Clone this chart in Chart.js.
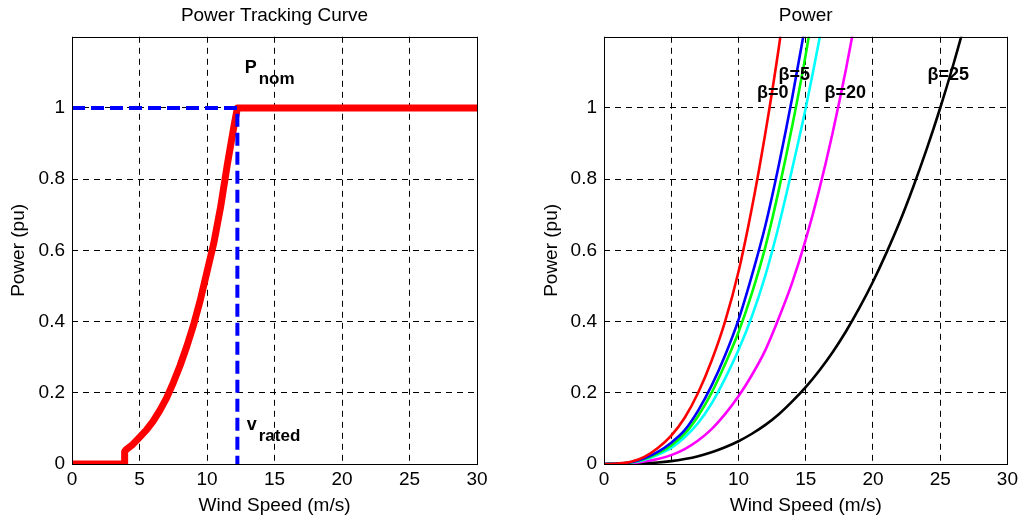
<!DOCTYPE html>
<html>
<head>
<meta charset="utf-8">
<script src="https://cdn.jsdelivr.net/npm/chart.js@4.4.0/dist/chart.umd.min.js"></script>
<style>
  body { margin: 0; background: #fff; }
  .row { display: flex; width: 1022px; height: 520px; }
  canvas { display: block; }
</style>
</head>
<body>
<div class="row">
  <canvas id="tracking" width="511" height="520"></canvas>
  <canvas id="power" width="511" height="520"></canvas>
</div>
<script>
// left plot: power tracking curve
const trackSpeed = [0, 3.9, 3.9, 4, 4.5, 5, 5.5, 6, 6.5, 7, 7.5, 8, 8.5, 9, 9.5, 10, 10.5, 11, 11.5, 12, 12.25, 30];
const trackPower = [0, 0, 0.035, 0.04, 0.055, 0.075, 0.095, 0.12, 0.15, 0.185, 0.228, 0.276, 0.33, 0.39, 0.46, 0.54, 0.62, 0.72, 0.84, 0.95, 1, 1];
const nomSpeed = [0, 12.25, 12.25];
const nomPower = [1, 1, 0];

// right plot: power curves for each pitch angle, one value per m/s
const windSpeed = [0, 1, 2, 3, 4, 5, 6, 7, 8, 9, 10, 11, 12, 13, 14, 15, 16, 17, 18, 19, 20, 21, 22, 23, 24, 25, 26, 27];
const pBeta0  = [0, 0.001, 0.006, 0.02, 0.045, 0.08, 0.13, 0.2, 0.29, 0.4, 0.54, 0.72, 0.93, 1.17, 1.45];
const pBeta5  = [0, 0.001, 0.005, 0.016, 0.034, 0.06, 0.095, 0.15, 0.22, 0.305, 0.405, 0.53, 0.67, 0.84, 1.03, 1.24];
const pBeta10 = [0, 0.001, 0.004, 0.014, 0.03, 0.052, 0.085, 0.135, 0.2, 0.28, 0.37, 0.48, 0.61, 0.77, 0.95, 1.15, 1.38];
const pBeta15 = [0, 0.001, 0.004, 0.012, 0.026, 0.045, 0.075, 0.115, 0.17, 0.24, 0.32, 0.415, 0.53, 0.67, 0.83, 1.0, 1.19, 1.4];
const pBeta20 = [0, 0, 0.002, 0.007, 0.014, 0.025, 0.042, 0.066, 0.098, 0.14, 0.19, 0.25, 0.32, 0.41, 0.51, 0.63, 0.77, 0.93, 1.11, 1.31];
const pBeta25 = [0, 0, 0.0005, 0.002, 0.004, 0.008, 0.014, 0.022, 0.033, 0.047, 0.064, 0.085, 0.11, 0.14, 0.176, 0.216, 0.262, 0.314, 0.373, 0.439, 0.512, 0.593, 0.681, 0.779, 0.885, 1.0, 1.125, 1.26];

const xTicks = [0, 5, 10, 15, 20, 25, 30];
const yTicks = [0, 0.2, 0.4, 0.6, 0.8, 1];

const FONT = "'Liberation Sans', Arial, sans-serif";
Chart.defaults.font.family = FONT;
Chart.defaults.color = '#000';

const pts = (xs, ys) => ys.map((y, i) => ({ x: xs[i], y }));

function axes(yWidth, yTitlePad) {
  return {
    x: {
      type: 'linear', min: 0, max: 30,
      afterBuildTicks: s => { s.ticks = xTicks.map(v => ({ value: v })); },
      afterFit: s => { s.height = 56; },
      grid: { color: '#000', drawTicks: false },
      border: { display: false, dash: [6, 5] },
      ticks: { font: { size: 19 }, padding: 4, autoSkip: false, maxRotation: 0 },
      title: { display: true, text: 'Wind Speed (m/s)', font: { size: 19 }, padding: { top: 0, bottom: 3 } }
    },
    y: {
      min: 0, max: 1.2,
      afterBuildTicks: s => { s.ticks = yTicks.map(v => ({ value: v })); },
      afterFit: s => { s.width = yWidth; },
      grid: { color: '#000', drawTicks: false },
      border: { display: false, dash: [6, 5] },
      ticks: { font: { size: 19 }, padding: 7, callback: v => String(+v.toFixed(1)) },
      title: { display: true, text: 'Power (pu)', font: { size: 19 }, padding: { top: yTitlePad, bottom: 0 } }
    }
  };
}

// box around the plot area plus the text labels
const frame = {
  id: 'frame',
  afterDraw(chart, args, opts) {
    const { ctx, chartArea: a, scales } = chart;
    ctx.save();
    ctx.strokeStyle = '#000';
    ctx.lineWidth = 1;
    ctx.strokeRect(Math.round(a.left) + 0.5, Math.round(a.top) + 0.5,
      Math.round(a.right - a.left), Math.round(a.bottom - a.top));
    ctx.fillStyle = '#000';
    ctx.textBaseline = 'alphabetic';
    (opts.notes || []).forEach(n => {
      const px = scales.x.getPixelForValue(n.x);
      const py = scales.y.getPixelForValue(n.y);
      ctx.font = 'bold 18px ' + FONT;
      ctx.fillText(n.text, px, py);
      if (n.sub) {
        const w = ctx.measureText(n.text).width;
        ctx.font = 'bold 17px ' + FONT;
        ctx.fillText(n.sub, px + w + 2, py + 11);
      }
    });
    ctx.restore();
  }
};

const titleOpts = text => ({
  display: true, text, fullSize: false, color: '#000',
  font: { size: 19, weight: 'normal' }, padding: { top: 4, bottom: 10 }
});

new Chart(document.getElementById('tracking'), {
  type: 'line',
  data: {
    datasets: [
      { data: pts(nomSpeed, nomPower), borderColor: '#0000ff', borderWidth: 4, borderDash: [13, 6], pointRadius: 0, tension: 0 },
      { data: pts(trackSpeed, trackPower), borderColor: '#ff0000', borderWidth: 7, pointRadius: 0, tension: 0, borderJoinStyle: 'round' }
    ]
  },
  options: {
    responsive: false, animation: false,
    layout: { padding: { left: 0, right: 34, top: 0, bottom: 0 } },
    scales: axes(72, 7),
    plugins: {
      legend: { display: false }, tooltip: { enabled: false },
      title: titleOpts('Power Tracking Curve'),
      frame: { notes: [
        { text: 'P', sub: 'nom', x: 12.79, y: 1.099 },
        { text: 'v', sub: 'rated', x: 12.94, y: 0.096 }
      ] }
    }
  },
  plugins: [frame]
});

const curve = (ys, color) => ({
  data: pts(windSpeed, ys), borderColor: color, borderWidth: 2.6, pointRadius: 0,
  cubicInterpolationMode: 'monotone'
});

new Chart(document.getElementById('power'), {
  type: 'line',
  data: {
    datasets: [
      curve(pBeta0, '#ff0000'),
      curve(pBeta5, '#0000ff'),
      curve(pBeta10, '#00ff00'),
      curve(pBeta15, '#00ffff'),
      curve(pBeta20, '#ff00ff'),
      curve(pBeta25, '#000000')
    ]
  },
  options: {
    responsive: false, animation: false,
    layout: { padding: { left: 0, right: 13, top: 0, bottom: 0 } },
    scales: axes(93, 29),
    plugins: {
      legend: { display: false }, tooltip: { enabled: false },
      title: titleOpts('Power'),
      frame: { notes: [
        { text: 'β=0', x: 11.37, y: 1.029 },
        { text: 'β=5', x: 12.98, y: 1.079 },
        { text: 'β=20', x: 16.39, y: 1.029 },
        { text: 'β=25', x: 24.05, y: 1.079 }
      ] }
    }
  },
  plugins: [frame]
});
</script>
</body>
</html>
